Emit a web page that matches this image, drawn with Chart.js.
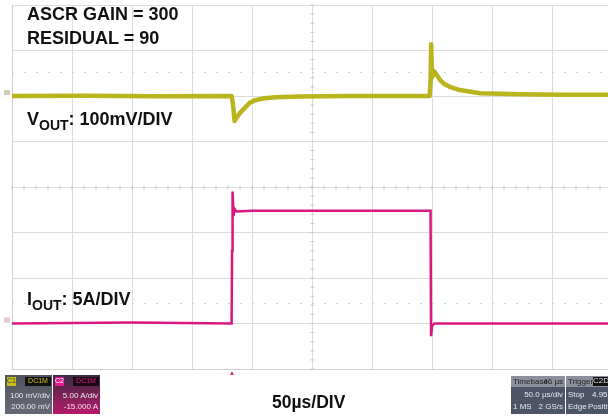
<!DOCTYPE html>
<html>
<head>
<meta charset="utf-8">
<script src="https://cdn.jsdelivr.net/npm/chart.js@4.4.1/dist/chart.umd.min.js"></script>
<style>
  html, body { margin:0; padding:0; background:#fff; width:608px; height:418px; overflow:hidden; }
  #wrap { position:relative; width:608px; height:418px; overflow:hidden; }
  canvas { position:absolute; left:0; top:0; }
  .lbl { position:absolute; font-family:"Liberation Sans", Arial, sans-serif; font-weight:bold; color:#111; font-size:18px; white-space:nowrap; line-height:1; }
  .lbl sub { font-size:14px; vertical-align:-5px; }
  .box { position:absolute; font-family:"Liberation Sans Narrow","Liberation Sans",Arial,sans-serif; font-size:8px; color:#e8e8f0; line-height:1; overflow:hidden; white-space:nowrap; }
</style>
</head>
<body>
<div id="wrap">
<canvas id="c" width="620" height="418"></canvas>

<div class="lbl" style="left:27px; top:5px;">ASCR GAIN = 300</div>
<div class="lbl" style="left:27px; top:29px;">RESIDUAL = 90</div>
<div class="lbl" style="left:27px; top:110px;">V<sub>OUT</sub>: 100mV/DIV</div>
<div class="lbl" style="left:27px; top:290px;">I<sub>OUT</sub>: 5A/DIV</div>
<div class="lbl" style="left:272px; top:394px; font-size:17.5px;">50µs/DIV</div>

<!-- channel badges bottom left -->
<div class="box" style="left:5px; top:375px; width:47px; height:39px; background:linear-gradient(#50545e,#666a74);">
  <div style="position:absolute; left:2px; top:2px; width:9px; height:9px; background:#c9c21a; color:#333; font-size:7px; text-align:center;">C1</div>
  <div style="position:absolute; left:20px; top:2px; width:26px; height:9px; background:#111; color:#c9c21a; font-size:7px; text-align:center;">DC1M</div>
  <div style="position:absolute; right:2px; top:17px;">100 mV/div</div>
  <div style="position:absolute; right:2px; top:28px;">200.00 mV</div>
</div>
<div class="box" style="left:53px; top:375px; width:47px; height:39px; background:linear-gradient(#3a2c40,#b8186c);">
  <div style="position:absolute; left:2px; top:2px; width:9px; height:9px; background:#e0188a; color:#fff; font-size:7px; text-align:center;">C2</div>
  <div style="position:absolute; left:20px; top:2px; width:26px; height:9px; background:#1a0a14; color:#e0188a; font-size:7px; text-align:center;">DC1M</div>
  <div style="position:absolute; right:2px; top:17px;">5.00 A/div</div>
  <div style="position:absolute; right:2px; top:28px;">-15.000 A</div>
</div>

<!-- timebase / trigger badges bottom right -->
<div class="box" style="left:511px; top:376px; width:54px; height:38px; background:#4d5468;">
  <div style="position:absolute; left:0; top:0; width:54px; height:11px; background:#8c909c; color:#222;"><span style="position:absolute;left:2px;top:2px;">Timebase</span><span style="position:absolute;right:2px;top:2px;">46 µs</span></div>
  <div style="position:absolute; right:2px; top:15px;">50.0 µs/div</div>
  <div style="position:absolute; left:2px; top:27px;">1 MS</div>
  <div style="position:absolute; right:2px; top:27px;">2 GS/s</div>
</div>
<div class="box" style="left:566px; top:376px; width:44px; height:38px; background:#4d5468;">
  <div style="position:absolute; left:0; top:0; width:44px; height:11px; background:#8c909c; color:#222;"><span style="position:absolute;left:2px;top:2px;">Trigger</span><span style="position:absolute;left:27px;top:1px;width:17px;height:9px;background:#111;color:#ddd;">C2DC</span></div>
  <div style="position:absolute; left:2px; top:15px;">Stop</div>
  <div style="position:absolute; left:26px; top:15px;">4.95 A</div>
  <div style="position:absolute; left:2px; top:27px;">Edge</div>
  <div style="position:absolute; left:22px; top:27px;">Positive</div>
</div>
</div>

<script>
// ---- data ----
// time axis in microseconds (50 µs/div, 10 divisions)
const timeTicks = [0, 50, 100, 150, 200, 250, 300, 350, 400, 450, 500];

// VOUT deviation (mV, 100 mV/div), baseline = 0
const voutTime = [0, 60, 120, 183, 184, 185.5, 187, 190, 194, 198, 203, 210, 220, 240, 280, 348, 348.8, 349.3, 350, 351.5, 353, 356.7, 360, 365, 373, 390, 423, 460, 500];
const voutMv   = [0, 0.5, -0.5, 0, -15, -55, -48, -37, -26, -15, -9, -5, -2.5, -1, 0, 0, 30, 114, 40, 55, 50, 35, 27, 20, 13, 6, 4, 3, 3];

// IOUT (A, 5 A/div), low level = 0 A
const ioutTime = [0, 100, 183, 183.4, 183.8, 184.6, 185.4, 187, 200, 300, 348.8, 349.2, 350, 352, 420, 500];
const ioutAmp  = [0, 0.1, 0, 8, 14.5, 11.8, 12.6, 12.3, 12.4, 12.4, 12.4, -1.4, -0.3, 0, 0, 0];

// dotted reference levels (mV on the VOUT scale)
const refLevelsMv = [52.7, -455];
const triggerTimeUs = 183.3;

function pts(xs, ys){ return xs.map((x,i)=>({x:x, y:ys[i]})); }

const scopeDecor = {
  id:'scopeDecor',
  beforeDatasetsDraw(chart){
    const {ctx, chartArea:a, scales} = chart;
    const xs = scales.x, yv = scales.yV;
    ctx.save();
    ctx.strokeStyle = '#d4d4d4';
    ctx.lineWidth = 1;
    ctx.setLineDash([2, 10]);
    refLevelsMv.forEach(v=>{
      const y = Math.round(yv.getPixelForValue(v))+0.5;
      ctx.beginPath(); ctx.moveTo(a.left, y); ctx.lineTo(a.right, y); ctx.stroke();
    });
    ctx.setLineDash([]);
    const cx = Math.round(xs.getPixelForValue(250))+0.5;
    const cy = Math.round(yv.getPixelForValue(-200))+0.5;
    ctx.strokeStyle = '#c8c8c8';
    const divX = xs.getPixelForValue(50)-xs.getPixelForValue(0);
    const divY = yv.getPixelForValue(-600)-yv.getPixelForValue(-500);
    for (let k=0; k<=50; k++){
      const x = a.left + k*divX/5;
      ctx.beginPath(); ctx.moveTo(x, cy-2); ctx.lineTo(x, cy+2); ctx.stroke();
    }
    for (let k=0; k<=40; k++){
      const y = a.top + k*divY/5;
      ctx.beginPath(); ctx.moveTo(cx-2, y); ctx.lineTo(cx+2, y); ctx.stroke();
    }
    ctx.restore();
  },
  afterDraw(chart){
    const {ctx, chartArea:a, scales} = chart;
    ctx.save();
    const tx = scales.x.getPixelForValue(triggerTimeUs);
    ctx.fillStyle = '#e0307a';
    ctx.beginPath(); ctx.moveTo(tx-2, a.bottom+6); ctx.lineTo(tx+2, a.bottom+6); ctx.lineTo(tx, a.bottom+2); ctx.closePath(); ctx.fill();
    ctx.fillStyle = '#cfcfbf';
    const y1 = scales.yV.getPixelForValue(0);
    ctx.fillRect(4, y1-6, 6, 5);
    ctx.fillStyle = '#e8c8d8';
    const y2 = scales.yI.getPixelForValue(0);
    ctx.fillRect(4, y2-6, 6, 5);
    ctx.restore();
  }
};

new Chart(document.getElementById('c'), {
  type: 'line',
  data: {
    datasets: [
      { label:'VOUT', data: pts(voutTime, voutMv), yAxisID:'yV', borderColor:'rgba(182,176,18,0.95)', borderWidth:4.5, pointRadius:0, tension:0, borderJoinStyle:'round' },
      { label:'IOUT', data: pts(ioutTime, ioutAmp), yAxisID:'yI', borderColor:'#d8177f', borderWidth:2.5, pointRadius:0, tension:0 }
    ]
  },
  options: {
    responsive:false, animation:false, events:[],
    layout:{ padding:{ left:12, top:5, right:8, bottom:49 } },
    plugins:{ legend:{display:false}, tooltip:{enabled:false} },
    scales:{
      x:{ type:'linear', min:0, max:500, afterBuildTicks:(s)=>{ s.ticks = timeTicks.map(v=>({value:v})); },
          ticks:{display:false}, grid:{color:'#dcdcdc', lineWidth:1, drawTicks:false}, border:{display:true, color:'#d0d0d0'} },
      yV:{ type:'linear', position:'left', min:-600, max:200, ticks:{display:false, stepSize:100},
          grid:{color:'#dcdcdc', lineWidth:1, drawTicks:false}, border:{display:true, color:'#d0d0d0'} },
      yI:{ type:'linear', position:'right', min:-5, max:35, display:false }
    }
  },
  plugins:[scopeDecor]
});
</script>
</body>
</html>
